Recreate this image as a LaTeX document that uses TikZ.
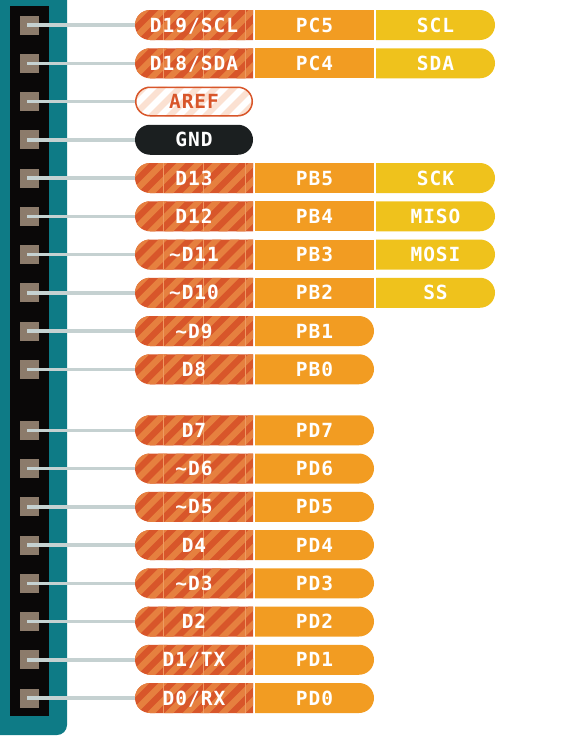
\documentclass[tikz,border=0pt]{standalone}
\usepackage{fontspec}
\newfontfamily\pinfont[LetterSpace=5]{DejaVu Sans Mono}
\definecolor{cteal}{HTML}{0E7B86}
\definecolor{cblack}{HTML}{0A0808}
\definecolor{cpin}{HTML}{8C7B6B}
\definecolor{cwire}{HTML}{C5D1D1}
\definecolor{cdred}{HTML}{D8562A}
\definecolor{cstripe}{HTML}{E6803F}
\definecolor{cgrid}{HTML}{EE9A62}
\definecolor{corange}{HTML}{F29C22}
\definecolor{cyellow}{HTML}{EFC21C}
\definecolor{cgnd}{HTML}{1B1F20}
\definecolor{cpeach}{HTML}{FBE1D2}
\tikzset{
  pinsq/.style={fill=cpin, minimum size=19pt, inner sep=0pt},
  lab/.style={minimum width=118pt, minimum height=30pt, inner sep=0pt, text=white,
    font=\pinfont\bfseries\fontsize{19.5}{22}\selectfont, text height=14pt, text depth=0pt},
  wire/.style={draw=cwire, line width=3.5pt},
  stripeline/.style={draw=cstripe, line width=6.3pt},
}
\newcommand\stripebox[1]{%
  \begin{scope}
    \clip (253,#1-15) [rounded corners=15pt] -- (135,#1-15) -- (135,#1+15) [sharp corners] -- (253,#1+15) -- cycle;
    \fill[cdred] (130,#1-16) rectangle (254,#1+16);
    \foreach \k in {0,...,10} \draw[stripeline] ({92+18*\k},{#1+20}) -- ++(40,-40);
    \foreach \gx in {163,203,245} \draw[cgrid, line width=0.6pt] (\gx,#1-15) -- (\gx,#1+15);
  \end{scope}}
\newcommand\rightbox[4]{%
  \fill[#4] (#1,#3-15) [rounded corners=15pt] -- (#2,#3-15) -- (#2,#3+15) [sharp corners] -- (#1,#3+15) -- cycle;}
\newcommand\rowthree[5]{%
  \stripebox{#2}
  \fill[corange] (255,#2-15) rectangle (374,#2+15);
  \rightbox{376}{495}{#2}{cyellow}
  \node[pinsq] (p#1) at (29.5,#2) {};
  \node[lab] (a#1) at (194,#2) {#3};
  \node[lab] (b#1) at (314.5,#2) {#4};
  \node[lab, minimum width=119pt] (c#1) at (435.5,#2) {#5};
  \draw[wire] ([xshift=-2.5pt]p#1.center) -- (a#1.west);}
\newcommand\rowtwo[4]{%
  \stripebox{#2}
  \rightbox{255}{374}{#2}{corange}
  \node[pinsq] (p#1) at (29.5,#2) {};
  \node[lab] (a#1) at (194,#2) {#3};
  \node[lab] (b#1) at (314.5,#2) {#4};
  \draw[wire] ([xshift=-2.5pt]p#1.center) -- (a#1.west);}
\newcommand\tld{\textasciitilde}
\begin{document}
\begin{tikzpicture}[x=1pt,y=-1pt]
\useasboundingbox (0,0) rectangle (573,744);
% board
\fill[cteal, rounded corners=10pt] (-20,-20) rectangle (67,735);
\fill[cblack] (10,6) rectangle (49,716);
% upper header
\rowthree{1}{25}{D19/SCL}{PC5}{SCL}
\rowthree{2}{63.25}{D18/SDA}{PC4}{SDA}
% AREF
\begin{scope}
  \clip[rounded corners=15pt] (135,86.5) rectangle (253,116.5);
  \fill[white] (130,85) rectangle (254,118);
  \foreach \k in {0,...,10} \draw[cpeach, line width=6.3pt] ({92+18*\k},121.5) -- ++(40,-40);
\end{scope}
\draw[cdred, line width=1.5pt, rounded corners=14.25pt] (135.75,87.25) rectangle (252.25,115.75);
\node[pinsq] (p3) at (29.5,101.5) {};
\node[lab, text=cdred] (a3) at (194,101.5) {AREF};
\draw[wire] ([xshift=-2.5pt]p3.center) -- (a3.west);
% GND
\fill[cgnd, rounded corners=15pt] (135,124.75) rectangle (253,154.75);
\node[pinsq] (p4) at (29.5,139.75) {};
\node[lab] (a4) at (194,139.75) {GND};
\draw[wire] ([xshift=-2.5pt]p4.center) -- (a4.west);
\rowthree{5}{178}{D13}{PB5}{SCK}
\rowthree{6}{216.25}{D12}{PB4}{MISO}
\rowthree{7}{254.5}{\tld D11}{PB3}{MOSI}
\rowthree{8}{292.75}{\tld D10}{PB2}{SS}
\rowtwo{9}{331}{\tld D9}{PB1}
\rowtwo{10}{369.25}{D8}{PB0}
% lower header
\rowtwo{11}{430.25}{D7}{PD7}
\rowtwo{12}{468.5}{\tld D6}{PD6}
\rowtwo{13}{506.75}{\tld D5}{PD5}
\rowtwo{14}{545}{D4}{PD4}
\rowtwo{15}{583.25}{\tld D3}{PD3}
\rowtwo{16}{621.5}{D2}{PD2}
\rowtwo{17}{659.75}{D1/TX}{PD1}
\rowtwo{18}{698}{D0/RX}{PD0}
\end{tikzpicture}
\end{document}
